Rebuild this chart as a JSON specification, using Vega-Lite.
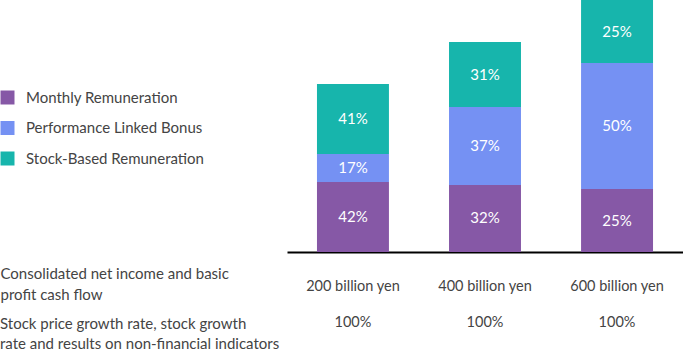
{
  "$schema": "https://vega.github.io/schema/vega-lite/v6.json",
  "width": 396,
  "height": 252,
  "autosize": "none",
  "padding": {"left": 287, "top": 0, "right": 0, "bottom": 99},
  "background": "white",
  "config": {
    "view": {"stroke": null},
    "font": "Lato",
    "text": {"font": "Lato"}
  },
  "data": {
    "values": [
      {"income": "200 billion yen", "component": "Monthly Remuneration", "order": 1, "amount": 41.7, "share": "42%"},
      {"income": "200 billion yen", "component": "Performance Linked Bonus", "order": 2, "amount": 16.7, "share": "17%"},
      {"income": "200 billion yen", "component": "Stock-Based Remuneration", "order": 3, "amount": 41.6, "share": "41%"},
      {"income": "400 billion yen", "component": "Monthly Remuneration", "order": 1, "amount": 39.9, "share": "32%"},
      {"income": "400 billion yen", "component": "Performance Linked Bonus", "order": 2, "amount": 46.4, "share": "37%"},
      {"income": "400 billion yen", "component": "Stock-Based Remuneration", "order": 3, "amount": 38.7, "share": "31%"},
      {"income": "600 billion yen", "component": "Monthly Remuneration", "order": 1, "amount": 37.5, "share": "25%"},
      {"income": "600 billion yen", "component": "Performance Linked Bonus", "order": 2, "amount": 75, "share": "50%"},
      {"income": "600 billion yen", "component": "Stock-Based Remuneration", "order": 3, "amount": 37.5, "share": "25%"}
    ]
  },
  "transform": [
    {"stack": "amount", "groupby": ["income"], "sort": [{"field": "order", "order": "ascending"}], "as": ["y0", "y1"]},
    {"calculate": "(datum.y0 + datum.y1) / 2", "as": "mid"}
  ],
  "title": {
    "text": ["Stock price growth rate, stock growth", "rate and results on non-financial indicators"],
    "orient": "bottom",
    "anchor": "start",
    "frame": "group",
    "align": "left",
    "baseline": "alphabetic",
    "dx": -287,
    "offset": 0,
    "dy": 0,
    "font": "Lato",
    "fontSize": 15,
    "fontWeight": "normal",
    "color": "#444444",
    "lineHeight": 20.5,
    "limit": 400
  },
  "encoding": {
    "x": {
      "field": "income",
      "type": "nominal",
      "sort": ["200 billion yen", "400 billion yen", "600 billion yen"],
      "scale": {"paddingInner": 0.455, "paddingOuter": 0.227},
      "axis": {
        "orient": "bottom",
        "domain": true,
        "domainColor": "#000000",
        "domainWidth": 2,
        "ticks": false,
        "tickSize": 0,
        "grid": false,
        "labelAngle": 0,
        "labelFont": "Lato",
        "labelFontSize": 14.5,
        "labelColor": "#444444",
        "labelBaseline": "alphabetic",
        "labelPadding": 38,
        "labelLineHeight": 36,
        "labelLimit": 300,
        "labelExpr": "[datum.label, '100%']",
        "title": ["Consolidated net income and basic", "profit cash flow"],
        "titleFont": "Lato",
        "titleFontSize": 15,
        "titleFontWeight": "normal",
        "titleColor": "#444444",
        "titleLineHeight": 21,
        "titleX": -287,
        "titleY": 26,
        "titleAlign": "left",
        "titleAnchor": "start",
        "titleBaseline": "alphabetic",
        "titleAngle": 0,
        "titleLimit": 400
      }
    }
  },
  "layer": [
    {
      "mark": {"type": "bar"},
      "encoding": {
        "y": {"field": "y1", "type": "quantitative", "scale": {"domain": [0, 150], "nice": false, "zero": true}, "axis": null},
        "y2": {"field": "y0"},
        "color": {
          "field": "component",
          "type": "nominal",
          "scale": {
            "domain": ["Monthly Remuneration", "Performance Linked Bonus", "Stock-Based Remuneration"],
            "range": ["#8658A6", "#7591F3", "#17B5AC"]
          },
          "legend": {
            "title": null,
            "orient": "none",
            "legendX": -287,
            "legendY": 90,
            "padding": 0,
            "symbolType": "square",
            "symbolSize": 196,
            "symbolStrokeWidth": 0,
            "symbolOpacity": 1,
            "labelFont": "Lato",
            "labelFontSize": 15,
            "labelColor": "#444444",
            "labelOffset": 11,
            "rowPadding": 14.5,
            "labelLimit": 300
          }
        }
      }
    },
    {
      "mark": {"type": "text", "color": "white", "fontSize": 15, "font": "Lato", "baseline": "middle", "align": "center"},
      "encoding": {
        "y": {"field": "mid", "type": "quantitative"},
        "text": {"field": "share", "type": "nominal"}
      }
    }
  ]
}
